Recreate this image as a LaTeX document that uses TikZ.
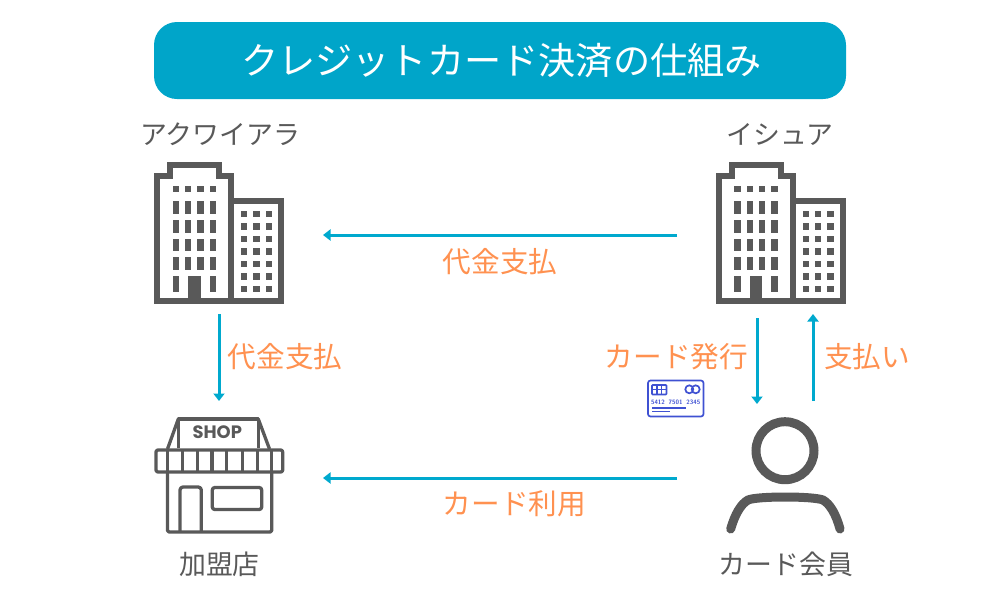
\documentclass[tikz,border=0pt]{standalone}
\usepackage{fontspec}
\setmainfont{Noto Sans CJK JP}
\newfontfamily\shopfont{Poppins}
\usetikzlibrary{arrows.meta}
\definecolor{titleblue}{HTML}{00A5C9}
\definecolor{flowblue}{HTML}{00A9CE}
\definecolor{labelorange}{HTML}{FF9150}
\definecolor{icongray}{HTML}{595959}
\definecolor{cardblue}{HTML}{3F51D2}
\tikzset{
	flow/.style={line width=0.3mm, color=flowblue, -{Triangle[width=1.1mm,length=0.75mm]}},
	actorlabel/.style={text=icongray, font=\fontsize{7.65}{9}\selectfont, inner sep=0pt},
	flowlabel/.style={text=labelorange, font=\fontsize{8.15}{10}\selectfont, inner sep=0pt},
	outline/.style={line width=0.6mm, color=icongray, miter limit=10},
	shopline/.style={line width=0.33mm, color=icongray, line join=round},
}
\def\building(#1){
	\begin{scope}[shift={(#1,0)}]
		\draw[outline] (157, 301) -- (157, 176) -- (170, 176) -- (170, 165) -- (219, 165) -- (219, 176) -- (231, 176) -- (231, 301) -- cycle;
		\draw[outline] (231, 201) -- (281, 201) -- (281, 301) -- (231, 301);
		\foreach \wx in {172.7, 185, 197.3, 209.7} {
			\fill[icongray] (\wx, 186) rectangle (\wx+6.3, 192.3);
			\foreach \wy in {201, 220, 238.7, 257.3}
				\fill[icongray] (\wx, \wy) rectangle (\wx+6.3, \wy+12.7);
		}
		\foreach \wx in {172.7, 209.7}
			\fill[icongray] (\wx, 276) rectangle (\wx+6.3, 291.7);
		\fill[icongray] (188.3, 276) rectangle (200.7, 300);
		\foreach \wx in {241, 253.3, 265.7}
			\foreach \wy in {210.7, 223.2, 235.7, 248.2, 260.7, 273.2, 285.7}
				\fill[icongray] (\wx, \wy) rectangle (\wx+6.3, \wy+6.3);
	\end{scope}
}
\begin{document}
\begin{tikzpicture}[x=0.1mm, y=-0.1mm]
	%%%%% START %%%%%
	\useasboundingbox (0, 0) rectangle (1000, 608);

	\fill[titleblue, rounded corners=2.3mm] (154, 22) rectangle (846, 99);
	\node[text=white, font=\fontsize{10.58}{12}\selectfont, inner sep=0pt] (title) at (501.5, 61) {クレジットカード決済の仕組み};

	\node[actorlabel] (acquirer) at (220, 134) {アクワイアラ};
	\node[actorlabel] (issuer) at (780, 134) {イシュア};
	\node[actorlabel] (merchant) at (219.5, 564) {加盟店};
	\node[actorlabel] (member) at (786, 564) {カード会員};

	\building(0)
	\building(561.7)

	% shop
	\draw[shopline, rounded corners=0.2mm] (156, 450) rectangle (282.7, 472);
	\foreach \sx in {167.3, 182.7, 197.7, 212, 226.7, 242.3, 257.3, 271.7}
		\draw[shopline] (\sx, 450) -- (\sx, 472);
	\draw[shopline] (178.3, 448) -- (178.3, 419) -- (258.3, 419) -- (258.3, 448);
	\draw[shopline] (167.5, 449) -- (178.3, 419);
	\draw[shopline] (269.5, 449) -- (258.3, 419);
	\draw[shopline, rounded corners=0.15mm] (167.5, 472) -- (167.5, 532) -- (271.7, 532) -- (271.7, 472);
	\draw[shopline, rounded corners=0.3mm] (180, 532) -- (180, 487) -- (201.3, 487) -- (201.3, 532);
	\draw[shopline, rounded corners=0.25mm] (212.3, 487.5) rectangle (261.7, 509.5);
	\node[text=icongray, font=\shopfont\bfseries\fontsize{5.1}{6}\selectfont, inner sep=0pt] (shoptext) at (217.3, 432.5) {SHOP};

	% member
	\draw[line width=0.9mm, color=icongray] (785, 450.7) circle (2.9mm);
	\draw[line width=0.9mm, color=icongray, line cap=round] (730.7, 529) .. controls (735, 514) and (741, 504) .. (748, 500) .. controls (757, 496) and (813, 496) .. (823, 500) .. controls (830, 504) and (836, 514) .. (840, 529);

	% card
	\draw[line width=0.17mm, color=cardblue, rounded corners=0.25mm] (648, 380.5) rectangle (703.5, 416.5);
	\draw[line width=0.17mm, color=cardblue, rounded corners=0.08mm] (652, 385) rectangle (666.5, 394.5);
	\draw[line width=0.15mm, color=cardblue] (657, 385) -- (657, 394.5) (661.5, 385) -- (661.5, 394.5) (652, 389.7) -- (666.5, 389.7);
	\draw[line width=0.17mm, color=cardblue] (689.3, 389.3) circle (0.4mm) (695.7, 389.3) circle (0.4mm);
	\node[text=cardblue, font=\sffamily\bfseries\fontsize{1.8}{2}\selectfont, inner sep=0pt] (cardno) at (675.7, 402.4) {5412\hspace{0.6em}7501\hspace{0.6em}2345};
	\fill[cardblue] (652, 407.3) rectangle (686, 408.7);
	\fill[cardblue] (652, 410.6) rectangle (670, 411.8);

	% connectors
	\coordinate (issuerout) at (677, 235);
	\coordinate (acquirerin) at (323, 235);
	\coordinate (acquirerout) at (219, 314);
	\coordinate (shopin) at (219, 401);
	\coordinate (memberout) at (677, 478);
	\coordinate (shopright) at (323, 478);
	\coordinate (issuerdown) at (757, 318);
	\coordinate (memberin) at (757, 404);
	\coordinate (memberup) at (813, 401);
	\coordinate (issuerin) at (813, 314);
	\draw[flow] (issuerout) -- (acquirerin);
	\draw[flow] (acquirerout) -- (shopin);
	\draw[flow] (memberout) -- (shopright);
	\draw[flow] (issuerdown) -- (memberin);
	\draw[flow] (memberup) -- (issuerin);

	\node[flowlabel] (paytop) at (500, 262) {代金支払};
	\node[flowlabel] (payleft) at (285, 357) {代金支払};
	\node[flowlabel] (issue) at (676.5, 356.5) {カード発行};
	\node[flowlabel] (payback) at (867, 357) {支払い};
	\node[flowlabel] (use) at (514.5, 504) {カード利用};
	%%%%% END %%%%%
\end{tikzpicture}
\end{document}
